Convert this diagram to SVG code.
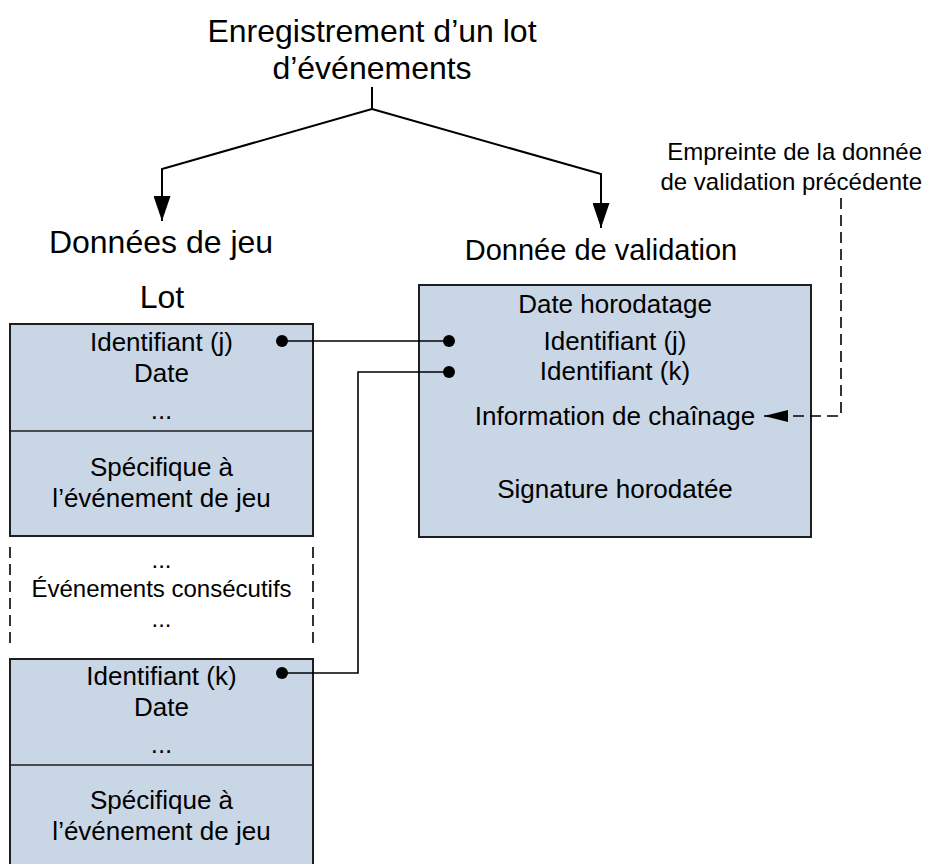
<svg xmlns="http://www.w3.org/2000/svg" width="927" height="864" viewBox="0 0 927 864">
<style>
.box{fill:#c9d6e6;stroke:#1e1e1e;stroke-width:2}
.div{stroke:#1e1e1e;stroke-width:1.5;fill:none}
.t{font-family:"Liberation Sans",Arial,sans-serif;fill:#000;text-anchor:middle}
.h{font-size:30px}
.b{font-size:26px}
.s{font-size:24px}
.ln{fill:none;stroke:#000;stroke-width:2}
.cn{fill:none;stroke:#000;stroke-width:1.6}
.dash{fill:none;stroke:#000;stroke-width:1.6;stroke-dasharray:11 6}
.dot{fill:#000}
</style>
<defs>
<marker id="arrDown" viewBox="0 0 25 17" refX="25" refY="8.5" markerWidth="25" markerHeight="17" markerUnits="userSpaceOnUse" orient="auto">
<path d="M0,0 L25,8.5 L0,17 Z" fill="#000"/>
</marker>
<marker id="arrSmall" viewBox="0 0 24 12" refX="24" refY="6" markerWidth="24" markerHeight="12" markerUnits="userSpaceOnUse" orient="auto">
<path d="M0,0 L24,6 L0,12 Z" fill="#000"/>
</marker>
</defs>

<g id="title">
<text class="t" style="font-size:32px" x="372" y="42">Enregistrement d’un lot</text>
<text class="t" style="font-size:32px" x="372" y="79">d’événements</text>
</g>

<g id="donnees-de-jeu">
<text class="t" style="font-size:32px" x="161" y="253">Données de jeu</text>
<text class="t" style="font-size:32px" x="162" y="308">Lot</text>
</g>

<g id="donnee-de-validation-label">
<text class="t" style="font-size:29px" x="601" y="260">Donnée de validation</text>
</g>

<g id="empreinte">
<text class="t s" x="922" y="160" style="text-anchor:end">Empreinte de la donnée</text>
<text class="t s" x="922" y="190" style="text-anchor:end">de validation précédente</text>
</g>

<g id="lot-event-j">
<rect class="box" x="10" y="324" width="303" height="212"/>
<line class="div" x1="10" y1="431" x2="313" y2="431"/>
<text class="t b" x="161.5" y="351">Identifiant (j)</text>
<text class="t b" x="161.5" y="382">Date</text>
<text class="t b" x="161.5" y="419">...</text>
<text class="t b" x="161.5" y="476">Spécifique à</text>
<text class="t b" x="161.5" y="507">l’événement de jeu</text>
</g>

<g id="consecutive-events">
<line class="dash" x1="10" y1="547" x2="10" y2="645"/>
<line class="dash" x1="313" y1="547" x2="313" y2="645"/>
<text class="t s" x="161.5" y="568">...</text>
<text class="t s" x="161.5" y="597">Événements consécutifs</text>
<text class="t s" x="161.5" y="627">...</text>
</g>

<g id="lot-event-k">
<rect class="box" x="10" y="659" width="303" height="214"/>
<line class="div" x1="10" y1="765" x2="313" y2="765"/>
<text class="t b" x="161.5" y="685">Identifiant (k)</text>
<text class="t b" x="161.5" y="716">Date</text>
<text class="t b" x="161.5" y="753">...</text>
<text class="t b" x="161.5" y="809">Spécifique à</text>
<text class="t b" x="161.5" y="840">l’événement de jeu</text>
</g>

<g id="validation-data">
<rect class="box" x="419" y="285" width="392" height="252"/>
<text class="t b" x="615" y="313">Date horodatage</text>
<text class="t b" x="615" y="350">Identifiant (j)</text>
<text class="t b" x="615" y="380">Identifiant (k)</text>
<text class="t b" x="615" y="425">Information de chaînage</text>
<text class="t b" x="615" y="498">Signature horodatée</text>
</g>

<g id="connectors">
<path class="ln" d="M372,87 V109 L162,169 V221" marker-end="url(#arrDown)"/>
<path class="ln" d="M372,109 L601,174 V228" marker-end="url(#arrDown)"/>
<path class="dash" d="M841,198 V416 H764" marker-end="url(#arrSmall)"/>
<path class="cn" d="M282,341 H449"/>
<path class="cn" d="M282,673 H358 V372 H449"/>
<circle class="dot" cx="282" cy="341" r="6"/>
<circle class="dot" cx="449" cy="341" r="6"/>
<circle class="dot" cx="449" cy="372" r="6"/>
<circle class="dot" cx="282" cy="673" r="6"/>
</g>
</svg>
